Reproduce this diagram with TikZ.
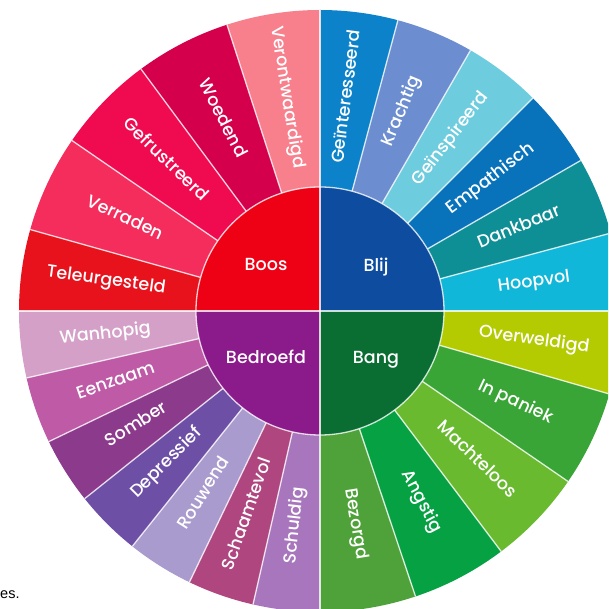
\documentclass[tikz,border=0pt]{standalone}
\usepackage{fontspec}
\setmainfont{Poppins}[UprightFont={* Medium}]
\newfontfamily\arialfont{Liberation Sans}
\definecolor{teleur}{HTML}{E8121C}
\definecolor{verraden}{HTML}{F42D5C}
\definecolor{gefrus}{HTML}{F00A50}
\definecolor{woedend}{HTML}{D4004C}
\definecolor{veront}{HTML}{F87F8C}
\definecolor{boos}{HTML}{EE0015}
\definecolor{geint}{HTML}{0B82C9}
\definecolor{kracht}{HTML}{6C8ED0}
\definecolor{geinsp}{HTML}{6DCCDD}
\definecolor{empath}{HTML}{0872BB}
\definecolor{dank}{HTML}{0E8F96}
\definecolor{hoop}{HTML}{11B7D9}
\definecolor{blij}{HTML}{0D4C9F}
\definecolor{overw}{HTML}{B4CB02}
\definecolor{paniek}{HTML}{39A536}
\definecolor{macht}{HTML}{69BA2F}
\definecolor{angstig}{HTML}{05A143}
\definecolor{bezorgd}{HTML}{4FA23A}
\definecolor{bang}{HTML}{0A6E33}
\definecolor{wanhop}{HTML}{D4A0C8}
\definecolor{eenzaam}{HTML}{BE5AA6}
\definecolor{somber}{HTML}{8C3A8C}
\definecolor{depress}{HTML}{6E4FA6}
\definecolor{rouwend}{HTML}{A99BCD}
\definecolor{schaam}{HTML}{B0467F}
\definecolor{schuld}{HTML}{A876BD}
\definecolor{bedroefd}{HTML}{8B1A8B}
\begin{document}
\begin{tikzpicture}[x=1pt,y=1pt,
  lbl/.style={text=white, inner sep=0pt, text height=0.72em, text depth=0pt,
    font=\fontsize{17.5}{18}\selectfont},
  corelbl/.style={lbl, font=\fontsize{17.5}{18}\selectfont},
  sepline/.style={draw=white, draw opacity=0.8, line width=1.3pt}]
\useasboundingbox (-320,-298) rectangle (288,311);
\clip (-320,-298) rectangle (288,311);
\def\Rout{301}\def\Rin{124}\def\Rtxt{216}
% outer ring
\foreach \a/\b/\c/\t [count=\i] in {
  0/15/hoop/Hoopvol, 15/30/dank/Dankbaar, 30/45/empath/Empathisch,
  45/60/geinsp/Geïnspireerd, 60/75/kracht/Krachtig, 75/90/geint/Geïnteresseerd,
  90/108/veront/Verontwaardigd, 108/126.5/woedend/Woedend, 126.5/145.5/gefrus/Gefrustreerd,
  145.5/164.3/verraden/Verraden, 164.3/180/teleur/Teleurgesteld,
  180/192.857/wanhop/Wanhopig, 192.857/205.714/eenzaam/Eenzaam,
  205.714/218.571/somber/Somber, 218.571/231.429/depress/Depressief,
  231.429/244.286/rouwend/Rouwend, 244.286/257.143/schaam/Schaamtevol,
  257.143/270/schuld/Schuldig,
  270/288.5/bezorgd/Bezorgd, 288.5/307/angstig/Angstig, 307/325.5/macht/Machteloos,
  325.5/344/paniek/In paniek, 344/360/overw/Overweldigd}{
  \fill[\c] (0,0) -- (\a:\Rout) arc[start angle=\a,end angle=\b,radius=\Rout] -- cycle;
  \pgfmathsetmacro\m{(\a+\b)/2}
  \pgfmathsetmacro\rr{(\m>90 && \m<270) ? \m-180 : \m}
  \node[lbl, rotate=\rr] (seg\i) at (\m:\Rtxt) {\t};
}
\foreach \a in {15,30,45,60,75,108,126.5,145.5,164.3,192.857,205.714,218.571,
  231.429,244.286,257.143,288.5,307,325.5,344}
  \draw[sepline] (\a:\Rin) -- (\a:\Rout);
% core
\fill[blij] (0,0) -- (0:\Rin) arc[start angle=0,end angle=90,radius=\Rin] -- cycle;
\fill[boos] (0,0) -- (90:\Rin) arc[start angle=90,end angle=180,radius=\Rin] -- cycle;
\fill[bedroefd] (0,0) -- (180:\Rin) arc[start angle=180,end angle=270,radius=\Rin] -- cycle;
\fill[bang] (0,0) -- (270:\Rin) arc[start angle=270,end angle=360,radius=\Rin] -- cycle;
\draw[sepline] (0,0) circle[radius=\Rin];
\draw[sepline] (0,-\Rout) -- (0,\Rout);
\draw[sepline] (-\Rout,0) -- (\Rout,0);
\node[corelbl] (cboos) at (-54,44) {Boos};
\node[corelbl] (cblij) at (56,43) {Blij};
\node[corelbl] (cbang) at (56,-49) {Bang};
\node[corelbl] (cbedroefd) at (-54,-49) {Bedroefd};
\node[anchor=base west, inner sep=0pt, font=\arialfont\fontsize{14.5}{16}\selectfont] (es) at (-320,-287) {es.};
\end{tikzpicture}
\end{document}
